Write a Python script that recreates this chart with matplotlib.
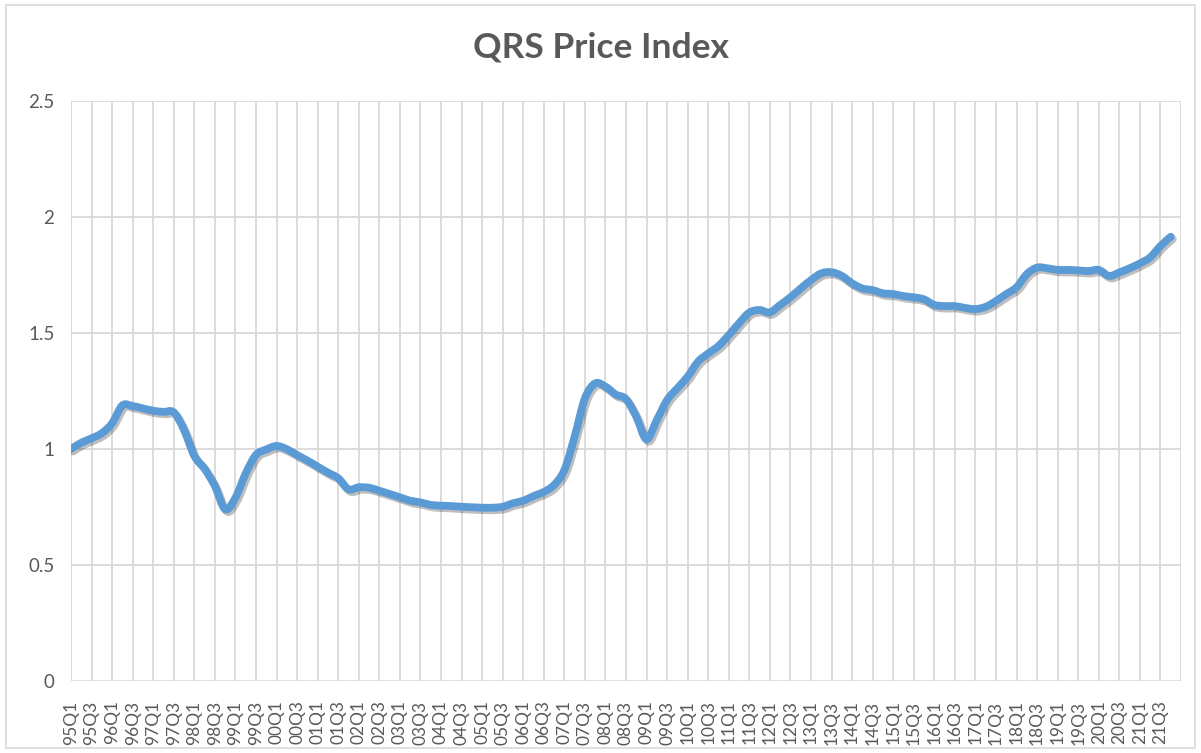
import matplotlib
matplotlib.use("Agg")
import matplotlib.pyplot as plt
import matplotlib.patheffects as pe
from matplotlib.path import Path
from matplotlib.patches import PathPatch, Rectangle
import numpy as np

# ---------------- data ----------------
years = [f"{y % 100:02d}" for y in range(1995, 2022)]
quarters = [f"{y}Q{q}" for y in years for q in (1, 2, 3, 4)]

values = [
    1.000, 1.027, 1.046, 1.068, 1.111, 1.188, 1.185, 1.175, 1.165, 1.160,
    1.158, 1.082, 0.970, 0.915, 0.840, 0.740, 0.790, 0.895, 0.975, 0.998,
    1.013, 0.999, 0.974, 0.950, 0.924, 0.898, 0.874, 0.826, 0.835, 0.833,
    0.820, 0.806, 0.792, 0.777, 0.770, 0.759, 0.756, 0.754, 0.751, 0.749,
    0.747, 0.747, 0.751, 0.766, 0.777, 0.797, 0.815, 0.845, 0.909, 1.053,
    1.218, 1.283, 1.269, 1.235, 1.215, 1.139, 1.042, 1.125, 1.211, 1.262,
    1.312, 1.376, 1.412, 1.444, 1.491, 1.542, 1.588, 1.599, 1.589, 1.621,
    1.654, 1.692, 1.728, 1.757, 1.762, 1.746, 1.714, 1.692, 1.685, 1.671,
    1.668, 1.659, 1.654, 1.645, 1.621, 1.616, 1.616, 1.608, 1.603, 1.613,
    1.638, 1.668, 1.697, 1.754, 1.782, 1.779, 1.772, 1.772, 1.770, 1.767,
    1.772, 1.746, 1.761, 1.779, 1.800, 1.826, 1.875, 1.915,
]

y_ticks = [0, 0.5, 1, 1.5, 2, 2.5]
y_tick_labels = ["0", "0.5", "1", "1.5", "2", "2.5"]
title = "QRS Price Index"

# ---------------- style ----------------
LINE_COLOR = "#5B9BD5"
GRID_COLOR = "#D9D9D9"
TEXT_COLOR = "#595959"
FONT = ["Lato", "DejaVu Sans"]

W, H = 1201, 753
fig = plt.figure(figsize=(W / 100, H / 100), dpi=100)
fig.patch.set_facecolor("white")

# chart border
fig.patches.append(Rectangle((6 / W, 5 / H), (1195 - 6) / W, (748 - 5) / H,
                             transform=fig.transFigure, fill=False,
                             edgecolor=GRID_COLOR, linewidth=1.2))

left, right, top, bottom = 71, 1181, 101, 681
ax = fig.add_axes([left / W, (H - bottom) / H, (right - left) / W, (bottom - top) / H])

n = len(values)
x = np.arange(n)
ax.set_xlim(0, n)  # categories on tick marks, one extra gridline at the end
ax.set_ylim(0, 2.5)

# gridlines
for gx in range(0, n + 1, 2):
    ax.axvline(gx, color=GRID_COLOR, linewidth=1.3, zorder=1)
for gy in y_ticks[1:]:
    ax.axhline(gy, color=GRID_COLOR, linewidth=1.3, zorder=1)
ax.axhline(0, color=GRID_COLOR, linewidth=1.8, zorder=1)

for s in ax.spines.values():
    s.set_visible(False)

# smoothed line (Excel-style bezier through the data points)
pts = np.column_stack([x, values])
verts = [tuple(pts[0])]
codes = [Path.MOVETO]
for i in range(n - 1):
    p0 = pts[i - 1] if i > 0 else pts[i]
    p1 = pts[i]
    p2 = pts[i + 1]
    p3 = pts[i + 2] if i + 2 < n else pts[i + 1]
    c1 = p1 + (p2 - p0) / 6.0
    c2 = p2 - (p3 - p1) / 6.0
    verts += [tuple(c1), tuple(c2), tuple(p2)]
    codes += [Path.CURVE4, Path.CURVE4, Path.CURVE4]
path = Path(verts, codes)
patch = PathPatch(path, fill=False, edgecolor=LINE_COLOR, linewidth=5.6,
                  capstyle="round", joinstyle="round", zorder=3,
                  path_effects=[pe.SimpleLineShadow(offset=(1.5, -1.8), shadow_color="black", alpha=0.25),
                                pe.Normal()])
ax.add_patch(patch)

# ticks
ax.set_yticks(y_ticks)
ax.set_yticklabels(y_tick_labels, fontsize=13.5, color=TEXT_COLOR, family=FONT)
ax.set_xticks(x[::2])
ax.set_xticklabels(quarters[::2], rotation=90, fontsize=12.5, color=TEXT_COLOR, family=FONT)
ax.tick_params(axis="both", length=0)
ax.tick_params(axis="y", pad=12)
ax.tick_params(axis="x", pad=14)

fig.text(601 / W, 1 - 47 / H, title, ha="center", va="center", fontsize=25.5,
         fontweight="bold", color=TEXT_COLOR, family=FONT)

fig.savefig("out.png", dpi=100, facecolor="white")
